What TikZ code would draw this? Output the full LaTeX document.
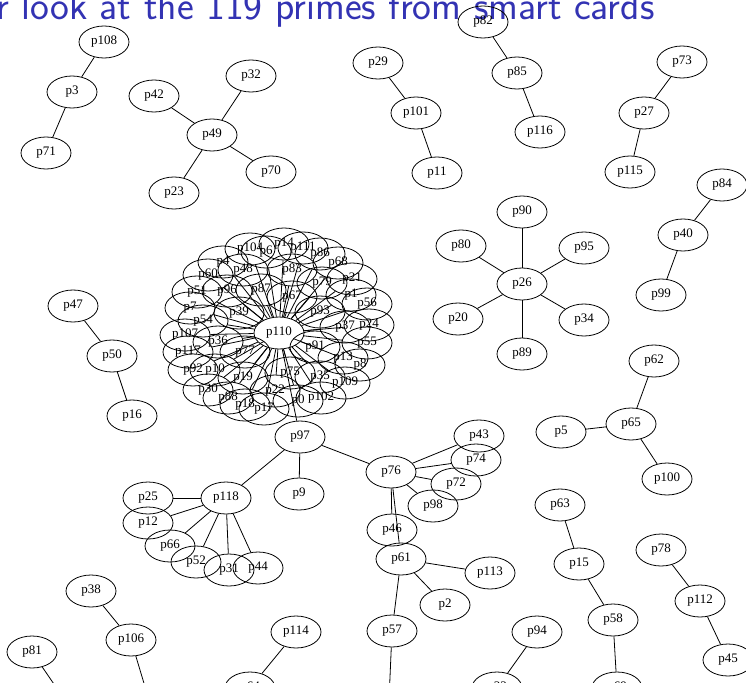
\documentclass[tikz,border=0pt]{standalone}
\usepackage{fontspec}
\setmainfont{Liberation Serif}
\usetikzlibrary{shapes.geometric}
\definecolor{titleblue}{RGB}{51,51,179}
\tikzset{
  pnode/.style={ellipse, draw, line width=0.8pt, minimum width=50pt, minimum height=32pt, inner sep=0pt, font=\fontsize{13}{13}\selectfont},
  link/.style={draw, line width=0.8pt},
  titletext/.style={anchor=base west, inner sep=0pt, text=titleblue, font=\sffamily\fontsize{40}{44}\selectfont}
}
\begin{document}
\begin{tikzpicture}[x=1pt, y=-1pt]
\useasboundingbox (0,0) rectangle (746,682);
\clip (0,0) rectangle (746,682);
\node[titletext] (title) at (-4,20) {r look at the 119 primes from smart cards};

% plain nodes
\foreach \n/\x/\y in {
  p108/104/42, p3/72/92, p71/46/153,
  p32/251/76, p42/154/96, p49/212/135, p70/271/172, p23/174/193,
  p82/483/22, p85/517/73, p116/540/132,
  p29/378/63, p101/416/113, p11/437/173,
  p73/682/62, p27/644/113, p115/630/172,
  p84/722/185, p40/683/235, p99/661/295,
  p90/522/212, p80/461/246, p95/584/248, p26/522/284, p20/458/319, p34/584/320, p89/522/354,
  p47/73/306, p50/112/356, p16/132/416,
  p62/654/361, p65/631/424, p5/561/432, p100/667/479,
  p110/279/333, p97/300/437, p9/299/494, p118/226/498, p76/391/472,
  p43/479/436, p74/476/460, p72/456/484, p98/433/506, p46/392/530, p61/401/559,
  p113/490/573, p2/445/605, p57/392/631,
  p25/148/498, p12/148/523, p66/170/546, p52/196/562, p31/229/570, p44/258/568,
  p63/560/505, p15/579/564, p58/613/620, p69/617/688,
  p78/661/550, p112/700/601, p45/728/660,
  p94/537/632, p33/497/688, p114/296/632, p64/250/688,
  p38/91/591, p106/131/640, p81/32/652}
  \node[pnode] (\n) at (\x,\y) {\n};

% cluster around p110
\foreach \n/\x/\y in {
  p104/250/249, p6/266/252, p14/284/244, p111/303/248, p86/320/254, p68/338/263,
  p21/352/279, p1/351/295, p56/367/304, p24/369/325, p37/345/327, p55/367/343,
  p8/360/365, p109/345/383, p102/321/398, p0/298/401, p17/264/409, p18/245/405,
  p88/228/398, p30/208/390, p92/193/370, p10/215/370, p117/188/352, p107/185/335,
  p54/203/321, p7/190/308, p51/197/292, p60/208/275, p4/223/262, p48/243/270,
  p96/227/291, p87/261/290, p39/239/313, p36/218/342, p77/245/352, p19/243/378,
  p22/275/391, p75/290/373, p35/320/377, p13/343/358, p91/315/347, p93/320/312,
  p67/292/297, p79/322/283, p83/292/270}
{
  \node[pnode] (\n) at (\x,\y) {\n};
  \draw[link] (p110) -- (\n);
}

% free ends of edges leaving the picture
\coordinate (e57) at (389,700);
\coordinate (e81) at (58,690);
\coordinate (e106) at (149,700);

\foreach \a/\b in {
  p108/p3, p3/p71,
  p32/p49, p42/p49, p49/p70, p49/p23,
  p82/p85, p85/p116,
  p29/p101, p101/p11,
  p73/p27, p27/p115,
  p84/p40, p40/p99,
  p26/p90, p26/p80, p26/p95, p26/p20, p26/p34, p26/p89,
  p47/p50, p50/p16,
  p62/p65, p65/p5, p65/p100,
  p110/p97, p97/p9, p97/p118, p97/p76,
  p76/p43, p76/p74, p76/p72, p76/p98, p76/p46, p76/p61,
  p61/p113, p61/p2, p61/p57,
  p118/p25, p118/p12, p118/p66, p118/p52, p118/p31, p118/p44,
  p63/p15, p15/p58, p58/p69,
  p78/p112, p112/p45,
  p94/p33, p114/p64,
  p38/p106}
  \draw[link] (\a) -- (\b);

\draw[link] (p57) -- (e57);
\draw[link] (p81) -- (e81);
\draw[link] (p106) -- (e106);
\end{tikzpicture}
\end{document}
